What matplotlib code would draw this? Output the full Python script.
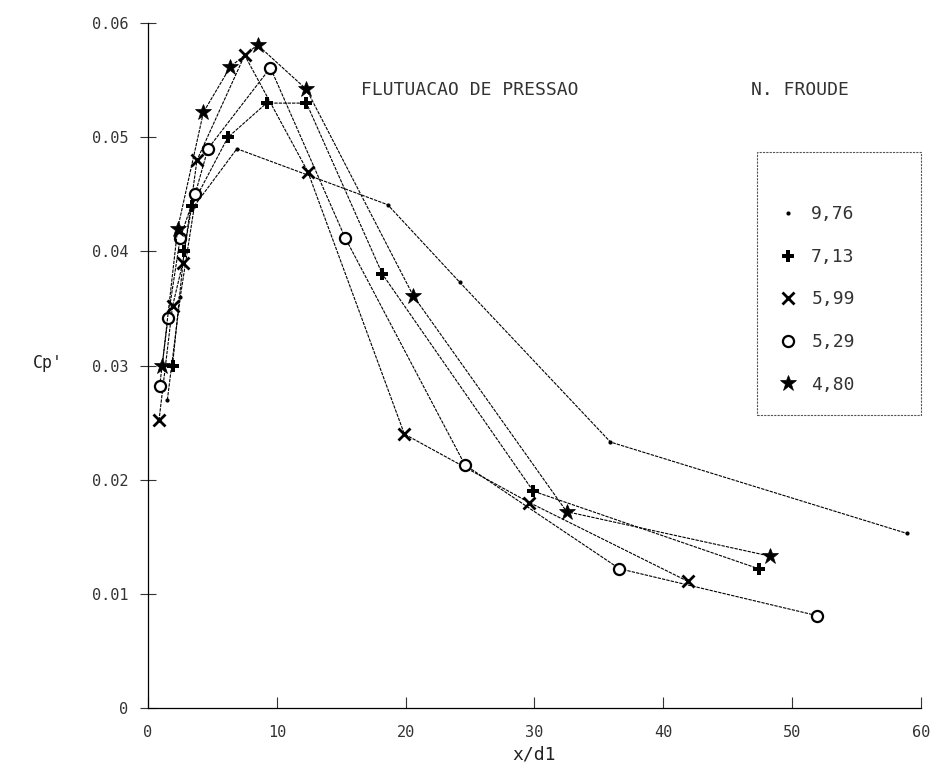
import matplotlib.pyplot as plt
from matplotlib.lines import Line2D
from matplotlib.patches import Rectangle

plt.rcParams["font.family"] = ["DejaVu Sans Mono"]

# Froude numbers (legend labels)
froude_labels = ["9,76", "7,13", "5,99", "5,29", "4,80"]

# x/d1 and Cp'
x_976 = [1.5, 2.5, 3.6, 6.9, 18.6, 24.2, 35.9, 58.9]
y_976 = [0.027, 0.036, 0.044, 0.049, 0.0441, 0.0373, 0.0233, 0.0153]

x_713 = [1.9, 2.8, 3.4, 6.2, 9.2, 12.3, 18.2, 29.9, 47.4]
y_713 = [0.030, 0.040, 0.044, 0.050, 0.053, 0.053, 0.038, 0.019, 0.0122]

x_599 = [0.85, 1.9, 2.7, 3.8, 7.5, 12.4, 19.9, 29.6, 41.9]
y_599 = [0.0252, 0.0352, 0.039, 0.048, 0.0572, 0.047, 0.024, 0.018, 0.0111]

x_529 = [0.9, 1.55, 2.5, 3.65, 4.65, 9.5, 15.3, 24.6, 36.6, 51.9]
y_529 = [0.0282, 0.0342, 0.0412, 0.045, 0.049, 0.0561, 0.0412, 0.0213, 0.0122, 0.0081]

x_480 = [1.1, 2.3, 4.3, 6.4, 8.5, 12.3, 20.6, 32.5, 48.3]
y_480 = [0.030, 0.042, 0.0522, 0.0562, 0.0581, 0.0542, 0.0361, 0.0172, 0.0133]

series = [(x_976, y_976), (x_713, y_713), (x_599, y_599), (x_529, y_529), (x_480, y_480)]
markers = [
    dict(marker="o", ms=3, mfc="k", mew=0),
    dict(marker="P", ms=9, mfc="k", mew=0),
    dict(marker="x", ms=9, mew=2.0),
    dict(marker="o", ms=8, mfc="white", mew=1.6),
    dict(marker="*", ms=12, mfc="k", mew=0.5),
]

fig = plt.figure(figsize=(9.34, 7.74), dpi=100)
ax = fig.add_axes([0.1585, 0.0853, 0.8275, 0.8847])

for (xs, ys), mk in zip(series, markers):
    ax.plot(xs, ys, color="k", lw=0.8, ls=(0, (3, 1)), mec="k", **mk)

ax.set_xlim(0, 60)
ax.set_ylim(0, 0.06)
ax.set_xticks(range(0, 61, 10))
ax.set_yticks([0, 0.01, 0.02, 0.03, 0.04, 0.05, 0.06])
ax.set_yticklabels(["0", "0.01", "0.02", "0.03", "0.04", "0.05", "0.06"])
ax.tick_params(axis="y", direction="inout", length=12, width=0.8, labelsize=11,
               colors="#333333", pad=8)
ax.tick_params(axis="x", direction="in", length=8, width=0.8, labelsize=11,
               colors="#333333", pad=12)
for s in ["top", "right"]:
    ax.spines[s].set_visible(False)
for s in ["left", "bottom"]:
    ax.spines[s].set_linestyle((0, (2, 1)))
    ax.spines[s].set_linewidth(0.9)

ax.set_xlabel("x/d1", fontsize=13, color="#222222")
ax.set_ylabel("Cp'", fontsize=12, rotation=0, color="#222222")
ax.yaxis.set_label_coords(-0.13, 0.49)

ax.text(0.275, 0.895, "FLUTUACAO DE PRESSAO", transform=ax.transAxes,
        fontsize=13, color="#333333")
ax.text(0.78, 0.895, "N. FROUDE", transform=ax.transAxes,
        fontsize=13, color="#333333")

# legend box drawn separately so it can be taller than its entries
ax.add_patch(Rectangle((0.788, 0.428), 0.212, 0.384, transform=ax.transAxes,
                       fill=False, ec="#555555", lw=0.8, ls=(0, (2, 1)),
                       clip_on=False))
handles = [Line2D([], [], color="k", ls="none", mec="k", **mk) for mk in markers]
leg = ax.legend(handles, froude_labels, loc="upper left",
                bbox_to_anchor=(0.816, 0.734), fontsize=13, frameon=False,
                labelspacing=1.36, handlelength=1.0, handletextpad=0.8,
                borderpad=0, borderaxespad=0)
for t in leg.get_texts():
    t.set_color("#333333")

fig.savefig("out.png", dpi=100)
